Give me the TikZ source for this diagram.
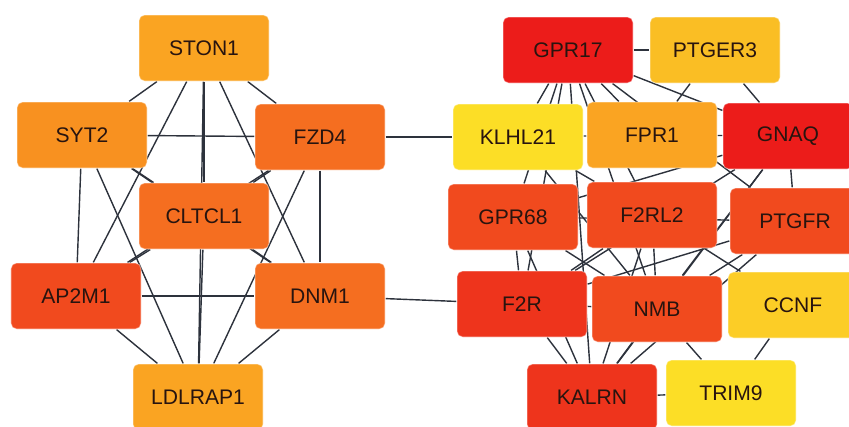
\documentclass[tikz,border=0pt]{standalone}
\usepackage{fontspec}
\setmainfont{Liberation Sans}
\usetikzlibrary{positioning, backgrounds}
\definecolor{edgegray}{RGB}{45,50,60}
\definecolor{labeldark}{RGB}{40,20,15}
\definecolor{deepred}{RGB}{236,28,26}
\definecolor{redA}{RGB}{238,52,28}
\definecolor{redB}{RGB}{241,74,30}
\definecolor{orangeA}{RGB}{245,110,32}
\definecolor{orangeB}{RGB}{248,145,32}
\definecolor{orangeC}{RGB}{250,164,34}
\definecolor{amber}{RGB}{250,190,36}
\definecolor{yellowA}{RGB}{252,205,38}
\definecolor{yellowB}{RGB}{252,222,38}
\tikzset{
  gene/.style={rectangle, rounded corners=4pt, minimum width=3.25cm,
    minimum height=1.65cm, draw=white, draw opacity=0.35, line width=0.8pt,
    font=\fontsize{15}{18}\selectfont, text=labeldark},
  link/.style={line width=1pt, color=edgegray}
}
\begin{document}
\begin{tikzpicture}
  \useasboundingbox (0,0) rectangle (21.225,-10.65);
  % Left module
  \node[gene, fill=orangeC] (ston1) at (5.10,-1.20) {STON1};
  \node[gene, fill=orangeB] (syt2) at (2.05,-3.375) {SYT2};
  \node[gene, fill=orangeA] (fzd4) at (8.00,-3.425) {FZD4};
  \node[gene, fill=orangeA] (cltcl1) at (5.10,-5.40) {CLTCL1};
  \node[gene, fill=redB] (ap2m1) at (1.90,-7.40) {AP2M1};
  \node[gene, fill=orangeA] (dnm1) at (8.00,-7.40) {DNM1};
  \node[gene, fill=orangeC] (ldlrap1) at (4.95,-9.925) {LDLRAP1};
  % Right module
  \node[gene, fill=deepred] (gpr17) at (14.20,-1.25) {GPR17};
  \node[gene, fill=amber] (ptger3) at (17.875,-1.25) {PTGER3};
  \node[gene, fill=yellowB] (klhl21) at (12.95,-3.425) {KLHL21};
  \node[gene, fill=orangeC] (fpr1) at (16.30,-3.375) {FPR1};
  \node[gene, fill=deepred] (gnaq) at (19.70,-3.40) {GNAQ};
  \node[gene, fill=redB] (gpr68) at (12.825,-5.425) {GPR68};
  \node[gene, fill=redB] (f2rl2) at (16.30,-5.375) {F2RL2};
  \node[gene, fill=redB] (ptgfr) at (19.875,-5.525) {PTGFR};
  \node[gene, fill=redA] (f2r) at (13.05,-7.60) {F2R};
  \node[gene, fill=redB] (nmb) at (16.425,-7.725) {NMB};
  \node[gene, fill=yellowA] (ccnf) at (19.825,-7.625) {CCNF};
  \node[gene, fill=redA] (kalrn) at (14.80,-9.925) {KALRN};
  \node[gene, fill=yellowB] (trim9) at (18.275,-9.825) {TRIM9};
  \begin{scope}[on background layer]
    % Left module edges
    \draw[link] (ston1) -- (syt2);   \draw[link] (ston1) -- (fzd4);
    \draw[link] (ston1) -- (cltcl1); \draw[link] (ston1) -- (ap2m1);
    \draw[link] (ston1) -- (dnm1);   \draw[link] (ston1) -- (ldlrap1);
    \draw[link] (syt2) -- (fzd4);    \draw[link] (syt2) -- (cltcl1);
    \draw[link] (syt2) -- (ap2m1);   \draw[link] (syt2) -- (dnm1);
    \draw[link] (syt2) -- (ldlrap1);
    \draw[link] (fzd4) -- (cltcl1);  \draw[link] (fzd4) -- (ap2m1);
    \draw[link] (fzd4) -- (dnm1);    \draw[link] (fzd4) -- (ldlrap1);
    \draw[link] (cltcl1) -- (ap2m1); \draw[link] (cltcl1) -- (dnm1);
    \draw[link] (cltcl1) -- (ldlrap1);
    \draw[link] (ap2m1) -- (dnm1);   \draw[link] (ap2m1) -- (ldlrap1);
    \draw[link] (dnm1) -- (ldlrap1);
    % Bridges
    \draw[link] (fzd4) -- (klhl21);
    \draw[link] (dnm1) -- (f2r);
    % Right module edges
    \draw[link] (gpr17) -- (ptger3); \draw[link] (gpr17) -- (klhl21);
    \draw[link] (gpr17) -- (fpr1);   \draw[link] (gpr17) -- (gnaq);
    \draw[link] (gpr17) -- (gpr68);  \draw[link] (gpr17) -- (f2rl2);
    \draw[link] (gpr17) -- (ptgfr);  \draw[link] (gpr17) -- (f2r);
    \draw[link] (gpr17) -- (nmb);    \draw[link] (gpr17) -- (kalrn);
    \draw[link] (ptger3) -- (fpr1);  \draw[link] (ptger3) -- (gnaq);
    \draw[link] (klhl21) -- (fpr1);  \draw[link] (klhl21) -- (f2rl2);
    \draw[link] (klhl21) -- (nmb);
    \draw[link] (fpr1) -- (gnaq);
    \draw[link] (gnaq) -- (ptgfr);   \draw[link] (gnaq) -- (gpr68);
    \draw[link] (gnaq) -- (f2r);     \draw[link] (gnaq) -- (nmb);
    \draw[link] (gnaq) -- (kalrn);
    \draw[link] (gpr68) -- (f2r);    \draw[link] (gpr68) -- (nmb);
    \draw[link] (gpr68) -- (kalrn);  \draw[link] (gpr68) -- (ptgfr);
    \draw[link] (f2rl2) -- (f2r);    \draw[link] (f2rl2) -- (nmb);
    \draw[link] (f2rl2) -- (kalrn);  \draw[link] (f2rl2) -- (ccnf);
    \draw[link] (ptgfr) -- (f2r);    \draw[link] (ptgfr) -- (nmb);
    \draw[link] (ptgfr) -- (kalrn);
    \draw[link] (f2r) -- (kalrn);    \draw[link] (f2r) -- (nmb);
    \draw[link] (nmb) -- (kalrn);    \draw[link] (nmb) -- (trim9);
    \draw[link] (ccnf) -- (trim9);   \draw[link] (kalrn) -- (trim9);
  \end{scope}
\end{tikzpicture}
\end{document}
